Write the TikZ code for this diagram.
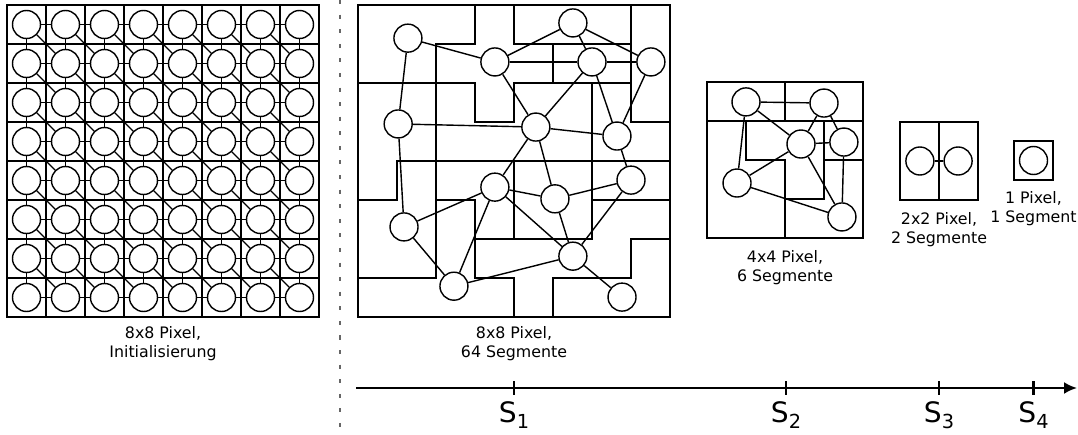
\documentclass[tikz,border=0pt]{standalone}
\usepackage{fontspec}
\setmainfont{DejaVu Sans}
\usetikzlibrary{arrows.meta,positioning,calc}

\newcommand{\Cell}{0.78}
\newcommand{\TopY}{8.58}
\newcommand{\InitX}{0.14}
\newcommand{\FineX}{7.16}
\newcommand{\QuadX}{14.14}
\newcommand{\QuadY}{7.04}
\newcommand{\PairX}{18.0}
\newcommand{\PairY}{6.24}
\newcommand{\OneX}{20.28}
\newcommand{\OneY}{5.86}
\newcommand{\SplitX}{6.8}
\newcommand{\AxisY}{0.92}
\newcommand{\Stage}[1]{{\fontsize{16}{18}\selectfont S\raisebox{-3.5pt}{\fontsize{11}{12}\selectfont #1}}}

\begin{document}
\begin{tikzpicture}[
    font=\fontsize{9}{10.8}\selectfont, line width=0.8pt,
    pix/.style={circle, draw, fill=white, minimum size=0.56cm, inner sep=0pt},
    frame/.style={draw, inner sep=0pt, minimum width=#1, minimum height=#1},
    caption/.style={align=center, inner sep=0pt},
    axis/.style={-{Latex[length=2.6mm, width=2.4mm]}, line width=1.3pt},
    tickmark/.style={line width=1.3pt},
    split/.style={draw=black!60, line width=0.6pt, dash pattern=on 2.3pt off 6pt},
  ]
\useasboundingbox (0,0) rectangle (21.56,8.68);

% --- Start: every pixel its own segment, linked to its neighbours -------------
\begin{scope}[shift={(\InitX,\TopY)}, x=\Cell cm, y=-\Cell cm]
  \node[frame=8*\Cell cm] (init) at (4,4) {};
  \foreach \k in {1,...,7} {
    \draw (\k,0) -- (\k,8);
    \draw (0,\k) -- (8,\k);
  }
  \foreach \i in {0,...,7} {
    \foreach \j in {0,...,7} {
      \node[pix] (g-\i-\j) at (\i+0.5,\j+0.5) {};
    }
  }
  \foreach \i in {0,...,6} {
    \pgfmathtruncatemacro{\ii}{\i+1}
    \foreach \j in {0,...,7} {
      \draw (g-\i-\j) -- (g-\ii-\j);
      \draw (g-\j-\i) -- (g-\j-\ii);
    }
    \foreach \j in {0,...,6} {
      \pgfmathtruncatemacro{\jj}{\j+1}
      \draw (g-\i-\j) -- (g-\ii-\jj);
    }
  }
\end{scope}
\node[caption, below=4.8pt of init] (initcap) {8x8 Pixel,\\Initialisierung};

\coordinate (splittop) at (\SplitX,8.68);
\coordinate (splitbot) at (\SplitX,0);
\draw[split] (splittop) -- (splitbot);

% --- S1: 8x8 pixels, 64 segments -----------------------------------------------
\begin{scope}[shift={(\FineX,\TopY)}, x=\Cell cm, y=-\Cell cm]
  \node[frame=8*\Cell cm] (fine) at (4,4) {};
  \draw (3,0) -- (3,1) -- (2,1) -- (2,7) -- (0,7);
  \draw (4,0) -- (4,1) -- (7,1);
  \draw (7,0) -- (7,3) -- (8,3);
  \draw (5,1) -- (5,2);
  \draw (0,2) -- (3,2) -- (3,3) -- (4,3) -- (4,2) -- (7,2);
  \draw (0,5) -- (1,5) -- (1,4) -- (8,4);
  \draw (6,2) -- (6,6) -- (3,6);
  \draw (4,4) -- (4,6);
  \draw (2,5) -- (3,5) -- (3,7) -- (4,7) -- (4,8);
  \draw (6,5) -- (8,5);
  \draw (8,6) -- (7,6) -- (7,7) -- (5,7) -- (5,8);
  \foreach \n/\x/\y in {1/1.28/0.85, 2/3.51/1.46, 3/5.51/0.46, 4/6.0/1.46, 5/7.51/1.46,
                        6/1.03/3.05, 7/4.56/3.13, 8/6.64/3.36, 9/3.51/4.67, 10/5.05/4.97,
                        11/7.0/4.49, 12/1.18/5.69, 13/2.46/7.21, 14/5.51/6.44, 15/6.77/7.49} {
    \node[pix] (s\n) at (\x,\y) {};
  }
  \foreach \a/\b in {1/2, 1/6, 2/3, 2/4, 2/7, 3/4, 3/5, 4/5, 4/7, 4/8, 5/8, 6/7, 6/12, 7/8,
                     7/9, 7/10, 8/11, 9/10, 9/12, 9/13, 9/14, 10/11, 10/14, 11/14, 12/13,
                     13/14, 14/15} {
    \draw (s\a) -- (s\b);
  }
\end{scope}
\node[caption, below=4.8pt of fine] (finecap) {8x8 Pixel,\\64 Segmente};

% --- S2: 4x4 pixels, 6 segments ------------------------------------------------
\begin{scope}[shift={(\QuadX,\QuadY)}, x=\Cell cm, y=-\Cell cm]
  \node[frame=4*\Cell cm] (quad) at (2,2) {};
  \draw (0,1) -- (4,1);
  \draw (2,0) -- (2,1);
  \draw (1,1) -- (1,2) -- (2,2) -- (2,4);
  \draw (3,1) -- (3,3) -- (2,3);
  \draw (3,2) -- (4,2);
  \foreach \n/\x/\y in {1/1.0/0.51, 2/3.0/0.54, 3/2.41/1.59, 4/3.51/1.54, 5/0.77/2.59, 6/3.46/3.46} {
    \node[pix] (q\n) at (\x,\y) {};
  }
  \foreach \a/\b in {1/2, 1/3, 1/5, 2/3, 2/4, 3/4, 3/5, 3/6, 4/6, 5/6} {
    \draw (q\a) -- (q\b);
  }
\end{scope}
\node[caption, below=6.2pt of quad] (quadcap) {4x4 Pixel,\\6 Segmente};

% --- S3: 2x2 pixels, 2 segments ------------------------------------------------
\begin{scope}[shift={(\PairX,\PairY)}, x=\Cell cm, y=-\Cell cm]
  \node[frame=2*\Cell cm] (pair) at (1,1) {};
  \draw (1,0) -- (1,2);
  \node[pix] (d1) at (0.51,1) {};
  \node[pix] (d2) at (1.49,1) {};
  \draw (d1) -- (d2);
\end{scope}
\node[caption, below=6.2pt of pair] (paircap) {2x2 Pixel,\\2 Segmente};

% --- S4: a single pixel --------------------------------------------------------
\node[frame=\Cell cm] (one) at ({\OneX+0.5*\Cell},{\OneY-0.5*\Cell}) {};
\node[pix] (u1) at (one.center) {};
\node[caption, below=5.7pt of one] (onecap) {1 Pixel,\\1 Segment};

% --- Time axis -----------------------------------------------------------------
\coordinate (axstart) at (7.12,\AxisY);
\coordinate (axend) at (21.54,\AxisY);
\draw[axis] (axstart) -- (axend);
\foreach \k/\x in {1/10.28, 2/15.72, 3/18.78, 4/20.67} {
  \coordinate (tk\k) at (\x,\AxisY);
  \draw[tickmark] ($(tk\k)+(0,0.14)$) -- ($(tk\k)-(0,0.14)$);
  \node[anchor=north, inner sep=0pt] (st\k) at ($(tk\k)-(0,0.26)$) {\Stage{\k}};
}

\end{tikzpicture}
\end{document}
